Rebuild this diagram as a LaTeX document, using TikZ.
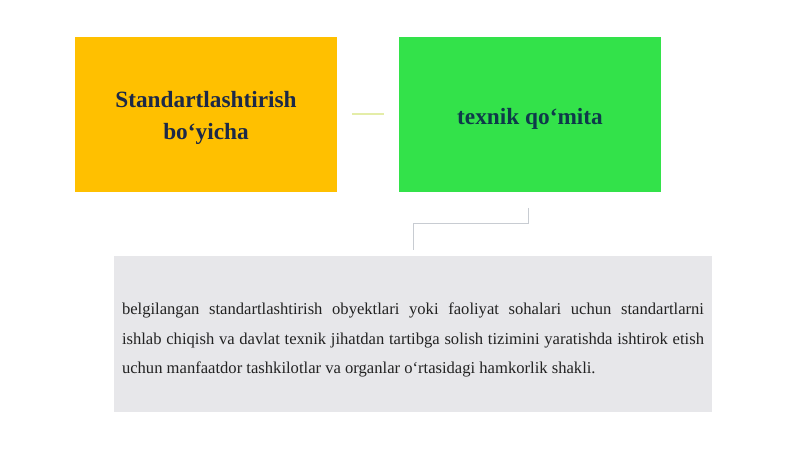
\documentclass[tikz,border=0pt]{standalone}
\usepackage{fontspec}
\setmainfont{Liberation Serif}
\hyphenpenalty=10000
\exhyphenpenalty=10000
\definecolor{orangebox}{HTML}{FFC000}
\definecolor{greenbox}{HTML}{33E24A}
\definecolor{graybox}{HTML}{E7E7EA}
\definecolor{navytext}{HTML}{1C2948}
\definecolor{tealtext}{HTML}{0E3A4A}
\definecolor{bodytext}{HTML}{222222}
\definecolor{linkgray}{HTML}{C8CCD2}
\definecolor{linkyellow}{HTML}{E4EDA8}
\tikzset{
  titlebox/.style={draw=none, minimum width=262pt, minimum height=155pt, inner sep=0pt},
  titletext/.style={align=center, inner sep=0pt, font=\fontsize{23.3}{32}\selectfont\bfseries},
  link/.style={draw=linkgray, line width=1pt},
}
\begin{document}
\begin{tikzpicture}[x=1pt,y=-1pt]
\useasboundingbox (0,0) rectangle (800,449);
\fill[white] (0,0) rectangle (800,449);
\node[titlebox, fill=orangebox] (a) at (206,114.5) {};
\node[titletext, text=navytext] (at) at ([yshift=-3pt]a.center) {Standartlashtirish\\bo‘yicha};
\node[titlebox, fill=greenbox] (b) at (530,114.5) {};
\node[titletext, text=tealtext] (bt) at ([yshift=-4pt]b.center) {texnik qo‘mita};
\node[draw=none, fill=graybox, minimum width=598pt, minimum height=156pt, inner sep=0pt] (c) at (413,334) {};
\node[text width=582pt, align=justify, inner sep=0pt, text=bodytext,
  font=\fontsize{16.6}{29.5}\selectfont] (t) at ([yshift=-6pt]c.center) {belgilangan standartlashtirish obyektlari yoki faoliyat sohalari uchun standartlarni\linebreak ishlab chiqish va davlat texnik jihatdan tartibga solish tizimini yaratishda ishtirok etish\linebreak uchun manfaatdor tashkilotlar va organlar o‘rtasidagi hamkorlik shakli.};
\coordinate (y1) at ([xshift=15pt]a.east);
\coordinate (y2) at ([xshift=-15pt]b.west);
\draw[linkyellow, line width=2pt] (y1) -- (y2);
\coordinate (k1) at (528,208);
\coordinate (k2) at (528,223);
\coordinate (k3) at (413,223);
\coordinate (k4) at (413,250);
\draw[link] (k1) -- (k2) -- (k3) -- (k4);
\end{tikzpicture}
\end{document}
